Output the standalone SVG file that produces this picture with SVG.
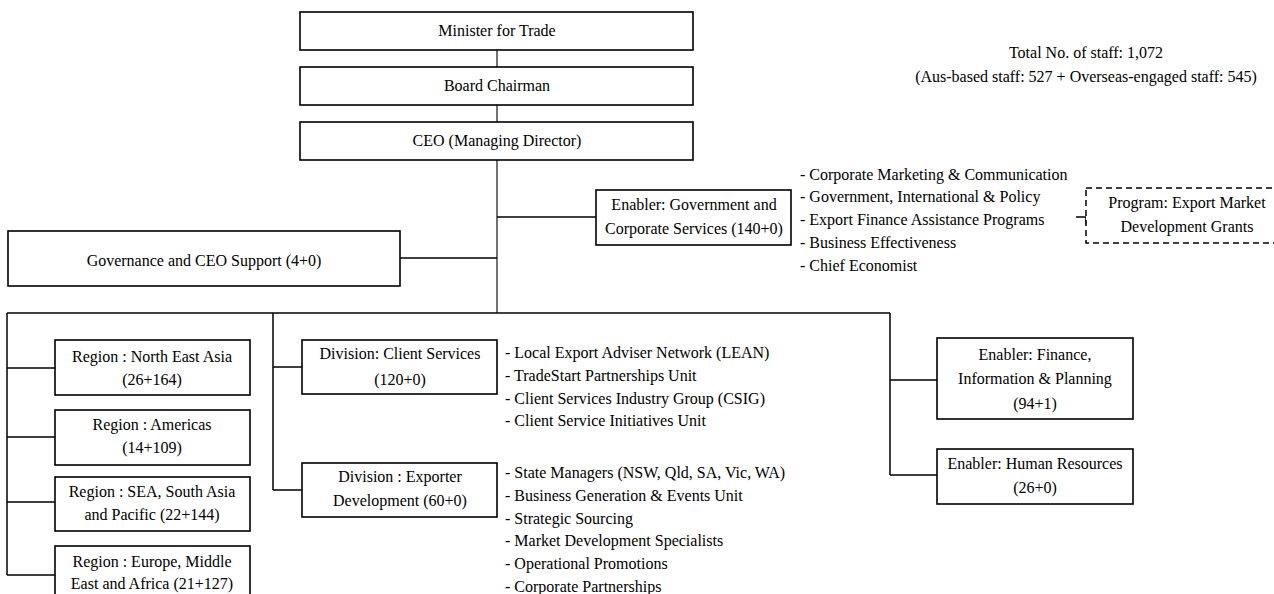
<svg xmlns="http://www.w3.org/2000/svg" width="1274" height="594" viewBox="0 0 1274 594">
<style>
  .box{fill:#fff;stroke:#000;stroke-width:1.6}
  .dash{fill:#fff;stroke:#000;stroke-width:1.5;stroke-dasharray:6 4}
  .t{font-family:"Liberation Serif","Times New Roman",serif;font-size:16px;fill:#000}
  .c{text-anchor:middle}
  .ln{fill:none;stroke:#000;stroke-width:1.5}
  .lt{fill:none;stroke:#000;stroke-width:1.1}
</style>
<rect width="1274" height="594" fill="#fff"/>

<g id="connectors">
  <path class="lt" d="M497 50V67M497 105V122M497 160V313"/>
  <path class="ln" d="M497 217H596"/>
  <path class="ln" d="M400 258H497"/>
  <path class="ln" d="M1076 217H1086V225"/>
  <path class="ln" d="M7 313H890"/>
  <path class="ln" d="M7 313V575"/>
  <path class="ln" d="M7 368H55M7 437H55M7 502H55M7 575H55"/>
  <path class="ln" d="M273 313V490M273 367H302M273 490H302"/>
  <path class="ln" d="M890 313V475M890 380H937M890 475H937"/>
</g>

<g id="total-staff">
  <text class="t c" x="1086" y="58">Total No. of staff: 1,072</text>
  <text class="t c" x="1086" y="82">(Aus-based staff: 527 + Overseas-engaged staff: 545)</text>
</g>

<g id="minister">
  <rect class="box" x="300" y="12" width="393" height="38"/>
  <text class="t c" x="497" y="36">Minister for Trade</text>
</g>
<g id="board">
  <rect class="box" x="300" y="67" width="393" height="38"/>
  <text class="t c" x="497" y="91">Board Chairman</text>
</g>
<g id="ceo">
  <rect class="box" x="300" y="122" width="393" height="38"/>
  <text class="t c" x="497" y="146">CEO (Managing Director)</text>
</g>

<g id="enabler-gcs">
  <rect class="box" x="596" y="190" width="195" height="55"/>
  <text class="t c" x="694" y="210">Enabler: Government and</text>
  <text class="t c" x="694" y="234">Corporate Services (140+0)</text>
</g>
<g id="enabler-gcs-list">
  <text class="t" x="800" y="180">- Corporate Marketing &amp; Communication</text>
  <text class="t" x="800" y="202">- Government, International &amp; Policy</text>
  <text class="t" x="800" y="225">- Export Finance Assistance Programs</text>
  <text class="t" x="800" y="248">- Business Effectiveness</text>
  <text class="t" x="800" y="271">- Chief Economist</text>
</g>
<g id="program-emdg">
  <rect class="dash" x="1086" y="188" width="204" height="55"/>
  <text class="t c" x="1187" y="208">Program: Export Market</text>
  <text class="t c" x="1187" y="232">Development Grants</text>
</g>

<g id="governance">
  <rect class="box" x="8" y="231" width="392" height="55"/>
  <text class="t c" x="204" y="266">Governance and CEO Support (4+0)</text>
</g>

<g id="region-nea">
  <rect class="box" x="55" y="340" width="195" height="55"/>
  <text class="t c" x="152" y="362">Region : North East Asia</text>
  <text class="t c" x="152" y="385">(26+164)</text>
</g>
<g id="region-americas">
  <rect class="box" x="55" y="410" width="195" height="55"/>
  <text class="t c" x="152" y="430">Region : Americas</text>
  <text class="t c" x="152" y="453">(14+109)</text>
</g>
<g id="region-sea">
  <rect class="box" x="55" y="477" width="195" height="54"/>
  <text class="t c" x="152" y="497">Region : SEA, South Asia</text>
  <text class="t c" x="152" y="520">and Pacific (22+144)</text>
</g>
<g id="region-emea">
  <rect class="box" x="55" y="546" width="195" height="60"/>
  <text class="t c" x="152" y="567">Region : Europe, Middle</text>
  <text class="t c" x="152" y="589">East and Africa (21+127)</text>
</g>

<g id="division-client-services">
  <rect class="box" x="302" y="340" width="195" height="54"/>
  <text class="t c" x="400" y="359">Division: Client Services</text>
  <text class="t c" x="400" y="385">(120+0)</text>
</g>
<g id="client-services-list">
  <text class="t" x="505" y="358">- Local Export Adviser Network (LEAN)</text>
  <text class="t" x="505" y="381">- TradeStart Partnerships Unit</text>
  <text class="t" x="505" y="404">- Client Services Industry Group (CSIG)</text>
  <text class="t" x="505" y="426">- Client Service Initiatives Unit</text>
</g>
<g id="division-exporter-development">
  <rect class="box" x="302" y="463" width="195" height="54"/>
  <text class="t c" x="400" y="482">Division : Exporter</text>
  <text class="t c" x="400" y="506">Development (60+0)</text>
</g>
<g id="exporter-development-list">
  <text class="t" x="505" y="478">- State Managers (NSW, Qld, SA, Vic, WA)</text>
  <text class="t" x="505" y="501">- Business Generation &amp; Events Unit</text>
  <text class="t" x="505" y="524">- Strategic Sourcing</text>
  <text class="t" x="505" y="546">- Market Development Specialists</text>
  <text class="t" x="505" y="569">- Operational Promotions</text>
  <text class="t" x="505" y="592">- Corporate Partnerships</text>
</g>

<g id="enabler-fip">
  <rect class="box" x="937" y="338" width="196" height="81"/>
  <text class="t c" x="1035" y="360">Enabler: Finance,</text>
  <text class="t c" x="1035" y="384">Information &amp; Planning</text>
  <text class="t c" x="1035" y="409">(94+1)</text>
</g>
<g id="enabler-hr">
  <rect class="box" x="937" y="449" width="196" height="55"/>
  <text class="t c" x="1035" y="469">Enabler: Human Resources</text>
  <text class="t c" x="1035" y="493">(26+0)</text>
</g>
</svg>
